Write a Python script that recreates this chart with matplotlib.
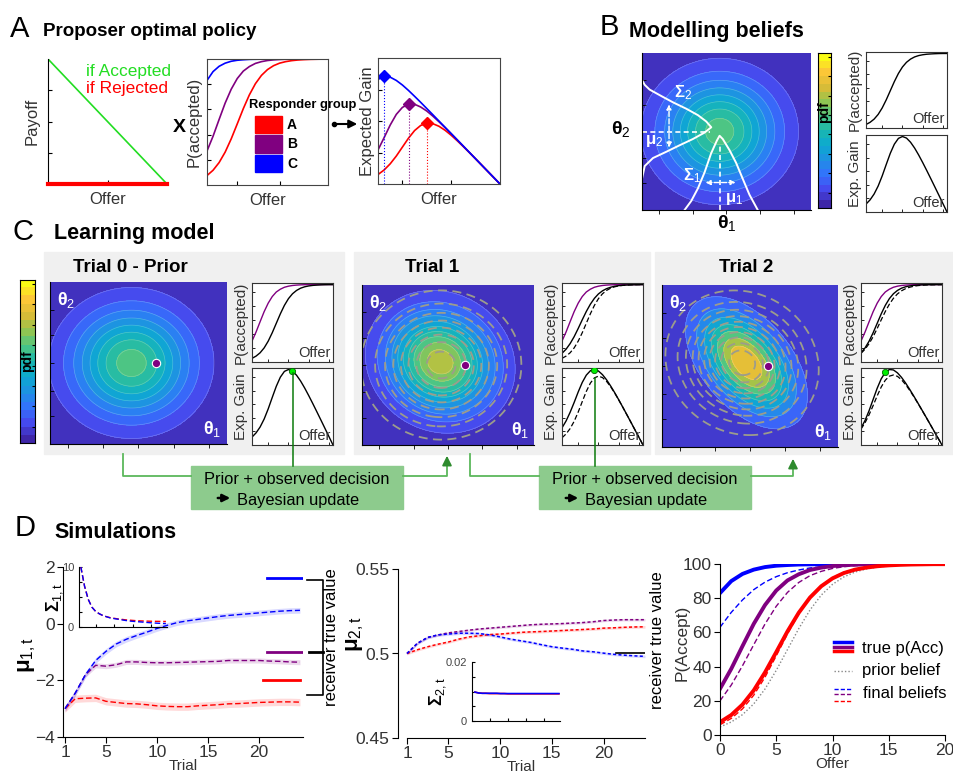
import numpy as np
import matplotlib
matplotlib.use("Agg")
import matplotlib.pyplot as plt
from matplotlib.colors import LinearSegmentedColormap
from matplotlib.patches import Rectangle, FancyArrowPatch
from matplotlib.lines import Line2D

plt.rcParams['font.family'] = ['Liberation Sans', 'DejaVu Sans']
plt.rcParams['mathtext.fontset'] = 'custom'
plt.rcParams['mathtext.rm'] = 'Liberation Sans'
plt.rcParams['mathtext.it'] = 'Liberation Sans:italic'
plt.rcParams['mathtext.bf'] = 'Liberation Sans:bold'
plt.rcParams['mathtext.default'] = 'rm'

W, H = 954, 775

# ── Data ─────────────────────────────────────────────────────────────────────
OFFER = np.arange(0, 21)
PAYOFF_IF_ACCEPTED = [20, 19, 18, 17, 16, 15, 14, 13, 12, 11, 10,
                      9, 8, 7, 6, 5, 4, 3, 2, 1, 0]
PAYOFF_IF_REJECTED = [0] * 21
TOTAL = 20

# P(accept) of responder groups (true) and model beliefs, offers 0..20
P_TRUE_BLUE = [.83, .90, .942, .967, .982, .99, .994, .997, .998, .999, .999,
               1, 1, 1, 1, 1, 1, 1, 1, 1, 1]
P_TRUE_PURPLE = [.27, .387, .52, .65, .76, .845, .904, .94, .965, .979, .988,
                 .993, .996, .998, .999, .999, 1, 1, 1, 1, 1]
P_TRUE_RED = [.075, .117, .178, .261, .366, .485, .606, .715, .804, .87, .916,
              .947, .967, .979, .987, .992, .995, .997, .998, .999, .999]
P_FINAL_BLUE = [.63, .717, .79, .85, .894, .926, .949, .965, .977, .984, .989,
                .993, .995, .997, .998, .999, .999, .999, 1, 1, 1]
P_FINAL_PURPLE = [.20, .292, .405, .528, .649, .753, .834, .892, .932, .957, .974,
                  .984, .99, .994, .996, .998, .999, .999, .999, 1, 1]
P_FINAL_RED = [.06, .097, .153, .233, .338, .463, .591, .709, .804, .873, .921,
               .951, .970, .982, .989, .993, .996, .997, .998, .999, .999]
P_PRIOR = [.047, .076, .119, .182, .269, .378, .5, .622, .731, .818, .881,
           .924, .953, .971, .982, .989, .993, .996, .998, .999, .999]
P_BELIEF_T1 = [.112, .165, .237, .327, .433, .545, .652, .746, .822, .879, .919,
               .947, .965, .978, .986, .991, .994, .996, .997, .998, .999]
P_BELIEF_T2 = [.119, .182, .269, .378, .5, .622, .731, .818, .881, .924, .953,
               .971, .982, .989, .993, .996, .998, .998, .999, .999, 1.0]
CHOSEN_OFFER = [10, 8, 6]

# Gaussian beliefs over (theta1, theta2), in image-fraction units
BELIEF_CENTER = [(0.46, 0.50), (0.455, 0.52), (0.48, 0.52)]
BELIEF_SD = [(0.225, 0.225), (0.20, 0.205), (0.17, 0.20)]
BELIEF_RHO = [0.0, -0.1, -0.5]
BELIEF_PEAK = [0.60, 0.75, 0.88]
LEVEL_STEP = [0.07, 0.07, 0.11]
RESPONDER_POINT = (0.60, 0.50)

# Marginal sketches of panel B (image fractions)
MARG2_X = [0.0, 0.016, 0.045, 0.114, 0.183, 0.262, 0.331, 0.380, 0.41,
           0.370, 0.301, 0.222, 0.144, 0.065, 0.016, 0.0]
MARG2_Y = [0.828, 0.797, 0.767, 0.726, 0.686, 0.645, 0.604, 0.564, 0.527,
           0.493, 0.452, 0.412, 0.371, 0.331, 0.280, 0.199]
MARG1_X = [0.252, 0.291, 0.331, 0.370, 0.409, 0.443, 0.459, 0.478, 0.518,
           0.557, 0.596, 0.636, 0.685]
MARG1_Y = [0.0, 0.057, 0.138, 0.239, 0.361, 0.442, 0.473, 0.452, 0.381,
           0.300, 0.199, 0.097, 0.0]

# Simulations: trials 1..24
TRIALS = np.arange(1, 25)
MU1_BLUE = [-3.0, -2.45, -1.8, -1.3, -0.98, -0.72, -0.55, -0.42, -0.3, -0.17,
            -0.06, 0.04, 0.1, 0.15, 0.2, 0.25, 0.29, 0.32, 0.35, 0.38,
            0.41, 0.44, 0.46, 0.47]
MU1_PURPLE = [-3.0, -2.45, -1.8, -1.47, -1.5, -1.45, -1.35, -1.35, -1.37, -1.38,
              -1.38, -1.37, -1.36, -1.35, -1.34, -1.33, -1.3, -1.3, -1.3, -1.3,
              -1.32, -1.33, -1.35, -1.36]
MU1_RED = [-3.0, -2.65, -2.63, -2.62, -2.74, -2.78, -2.82, -2.83, -2.86, -2.9,
           -2.92, -2.93, -2.93, -2.9, -2.88, -2.86, -2.83, -2.82, -2.8, -2.78,
           -2.77, -2.76, -2.76, -2.77]
MU1_SEM = [0.1, 0.09, 0.13]
MU1_TRUE = [1.6, -1.0, -2.0]
SIG1_BLUE = [10, 6.8, 4.6, 3.3, 2.6, 2.2, 1.9, 1.7, 1.5, 1.4, 1.3, 1.2,
             1.1, 1.0, 0.95, 0.9, 0.85, 0.8, 0.75, 0.7, 0.66, 0.62, 0.6, 0.58]
SIG1_RED = [10, 6.8, 4.6, 3.3, 2.6, 2.2, 1.9, 1.7, 1.55, 1.45, 1.35, 1.28,
            1.2, 1.15, 1.1, 1.05, 1.02, 1.0, 0.98, 0.96, 0.95, 0.94, 0.93, 0.92]

MU2_BLUE = [.5, .506, .5095, .511, .5115, .512, .512, .5118, .511, .5098,
            .5085, .5075, .5065, .5052, .504, .5032, .5025, .5015, .501, .5002,
            .4995, .499, .4986, .4983]
MU2_PURPLE = [.5, .506, .5095, .511, .5122, .513, .5138, .5145, .515, .5155,
              .516, .5165, .517, .5173, .5175, .5177, .518, .5183, .5188, .5195,
              .5198, .52, .52, .52]
MU2_RED = [.5, .5022, .504, .5055, .5068, .5085, .5098, .5105, .5112, .5115,
           .512, .5125, .5128, .513, .5133, .5136, .5139, .5142, .5145, .515,
           .5152, .5155, .5157, .5158]
MU2_SEM = [0.0008, 0.0007, 0.0008]
MU2_TRUE = 0.5
SIG2_BLUE = [.0098, .0095, .0094, .0094, .0094, .0094, .0094, .0093, .0093, .0093,
             .0093, .0093, .0093, .0093, .0093, .0093, .0093, .0093, .0093, .0093,
             .0093, .0093, .0093, .0093]
SIG2_RED = [.0098, .0095, .0094, .0094, .0093, .0093, .0093, .0093, .0093, .0092,
            .0092, .0092, .0092, .0092, .0092, .0092, .0092, .0092, .0092, .0092,
            .0092, .0092, .0092, .0092]

BLUE, PURPLE, RED = "#0000ff", "#800080", "#ff0000"
GREEN = "#22dd22"
PARULA = LinearSegmentedColormap.from_list("parula", [
    "#3e26a8", "#464aee", "#3373fd", "#1f91e3", "#0da9d1", "#1bb9ae",
    "#4fc682", "#99c54c", "#dcbc37", "#fdc838", "#f9fb15"])

fig = plt.figure(figsize=(W / 100, H / 100), dpi=100)


# ── Helpers (pixel coordinates, origin top-left) ─────────────────────────────
def fig_axes(x0, y0, x1, y1, **kw):
    return fig.add_axes([x0 / W, 1 - y1 / H, (x1 - x0) / W, (y1 - y0) / H], **kw)

def ftext(x, y, s, **kw):
    fig.text(x / W, 1 - y / H, s, **kw)

def fline(xs, ys, **kw):
    fig.add_artist(Line2D([x / W for x in xs], [1 - y / H for y in ys],
                          transform=fig.transFigure, **kw))

def frect(x0, y0, x1, y1, **kw):
    fig.add_artist(Rectangle((x0 / W, 1 - y1 / H), (x1 - x0) / W, (y1 - y0) / H,
                             transform=fig.transFigure, **kw))

def farrow(x0, y0, x1, y1, **kw):
    fig.add_artist(FancyArrowPatch((x0 / W, 1 - y0 / H), (x1 / W, 1 - y1 / H),
                                   transform=fig.transFigure, **kw))

def ylabel_at(ax, text, x_right, y_mid, **kw):
    # place a y label with its right edge at pixel x_right, centred on y_mid
    ax.set_ylabel(text, **kw)
    pos = ax.get_position()
    ax.yaxis.set_label_coords((x_right / W - pos.x0) / pos.width,
                              ((1 - y_mid / H) - pos.y0) / pos.height)

def gain(p):
    return np.array(PAYOFF_IF_ACCEPTED) / TOTAL * np.array(p)

GX, GY = np.meshgrid(np.linspace(0, 1, 300), np.linspace(0, 1, 300))

def gauss(k):
    cx, cy = BELIEF_CENTER[k]
    sx, sy = BELIEF_SD[k]
    r = BELIEF_RHO[k]
    dx, dy = (GX - cx) / sx, (GY - cy) / sy
    q = (dx ** 2 - 2 * r * dx * dy + dy ** 2) / (1 - r ** 2)
    return BELIEF_PEAK[k] * np.exp(-q / 2)

def belief_image(ax, k, prev=None, labels=True, dot=True):
    z = gauss(k)
    step = LEVEL_STEP[k]
    levels = np.append(np.arange(0, BELIEF_PEAK[k], step), 1.01)
    cols = [PARULA(l + step / 2) for l in levels[:-1]]
    ax.contourf(GX, GY, z, levels=levels, colors=cols)
    ax.contour(GX, GY, z, levels=levels[1:-1], colors="white", linewidths=0.5, alpha=0.25)
    if prev is not None:
        lp = np.arange(LEVEL_STEP[prev], BELIEF_PEAK[prev], LEVEL_STEP[prev])
        ax.contour(GX, GY, gauss(prev), levels=lp, colors="#9c9c8c",
                   linewidths=1.3, linestyles=[(0, (5, 3))])
    if dot:
        ax.plot(*RESPONDER_POINT, "o", color=PURPLE, mec="white", mew=0.8, ms=6)
    ax.set_xlim(0, 1); ax.set_ylim(0, 1)
    ax.set_xticks([.1, .3, .5, .7, .9]); ax.set_yticks([.17, .33, .5, .67, .83])
    ax.tick_params(labelbottom=False, labelleft=False, length=3, width=0.6)
    ax.tick_params(axis="y", direction="in")
    for s in ["top", "right"]:
        ax.spines[s].set_visible(False)
    if labels:
        ax.text(0.04, 0.95, "θ$_2$", transform=ax.transAxes, color="white",
                fontsize=13, fontweight="bold", va="top")
        ax.text(0.97, 0.03, "θ$_1$", transform=ax.transAxes, color="white",
                fontsize=13, fontweight="bold", ha="right", va="bottom")

def colorbar_strip(ax, label_frac):
    ax.imshow(np.linspace(1, 0, 20).reshape(-1, 1), cmap=PARULA, aspect="auto",
              extent=[0, 1, 0, 1], interpolation="nearest")
    ax.set_xticks([])
    ax.yaxis.tick_right()
    ax.set_yticks(np.arange(0.1, 1.0, 0.125))
    ax.tick_params(axis="y", direction="in", length=2.5, labelright=False)
    ax.text(0.45, label_frac, "pdf", transform=ax.transAxes, rotation=90,
            ha="center", va="center", fontsize=10, fontweight="bold")

def small_axes(ax, ylabel, curves, dots=None):
    for y, kw in curves:
        ax.plot(OFFER, y, **kw)
    if dots is not None:
        ax.plot(*dots, "o", color="#00ee00", mec="#006600", mew=0.6, ms=4.5, zorder=5)
    ax.set_xlim(0, 20)
    top = max(max(np.asarray(y)) for y, _ in curves)
    ax.set_ylim(0, top * 1.02)
    ax.set_xticks([4, 9, 14, 19])
    ax.set_yticks(np.linspace(0.18, 0.9, 5) * top)
    ax.tick_params(direction="in", length=2.5, width=0.6, labelbottom=False, labelleft=False)
    for s in ax.spines.values():
        s.set_linewidth(0.8); s.set_color("#333333")
    ax.text(0.97, 0.03, "Offer", transform=ax.transAxes, ha="right", va="bottom",
            fontsize=10.5, color="#333333")
    ax.set_ylabel(ylabel, fontsize=11, color="#333333", labelpad=3)


# ── A: proposer optimal policy ───────────────────────────────────────────────
ftext(10, 29, "A", fontsize=21, va="center")
ftext(43, 31, "Proposer optimal policy", fontsize=13.5, fontweight="bold", va="center")

ax = fig_axes(48, 59, 167, 184)
ax.plot(OFFER, PAYOFF_IF_ACCEPTED, color=GREEN, lw=1.2)
ax.plot(OFFER, PAYOFF_IF_REJECTED, color=RED, lw=3, clip_on=False, zorder=4)
ax.set_xlim(0, 20); ax.set_ylim(0, 20)
ax.set_xticks([10]); ax.set_yticks([5, 10, 15])
ax.tick_params(direction="in", length=3, labelbottom=False, labelleft=False)
for s in ["top", "right"]:
    ax.spines[s].set_visible(False)
ax.set_xlabel("Offer", fontsize=12, color="#333333", labelpad=6)
ax.set_ylabel("Payoff", fontsize=12, color="#333333", labelpad=6)
ax.text(0.32, 0.9, "if Accepted", transform=ax.transAxes, color=GREEN, fontsize=12.5, va="center")
ax.text(0.32, 0.76, "if Rejected", transform=ax.transAxes, color=RED, fontsize=12.5, va="center")

ax = fig_axes(207, 59, 328, 185)
for p, c in [(P_TRUE_BLUE, BLUE), (P_TRUE_PURPLE, PURPLE), (P_TRUE_RED, RED)]:
    ax.plot(OFFER, p, color=c, lw=1.2)
ax.set_xlim(0, 20); ax.set_ylim(0, 1.0)
ax.set_xticks([5, 12]); ax.set_yticks([.2, .4, .6, .8])
ax.tick_params(direction="in", length=3, labelbottom=False, labelleft=False)
for s in ax.spines.values():
    s.set_color("#444444")
ax.set_xlabel("Offer", fontsize=12, color="#333333", labelpad=6)
ax.set_ylabel("P(accepted)", fontsize=12, color="#333333", labelpad=4)

ftext(179, 128, "X", fontsize=14, fontweight="bold", ha="center", va="center")
ftext(249, 105, "Responder group", fontsize=9.3, fontweight="bold", va="center")
for i, (c, lab) in enumerate([(RED, "A"), (PURPLE, "B"), (BLUE, "C")]):
    frect(255, 116 + 19.5 * i, 282, 133 + 19.5 * i, color=c)
    ftext(287, 125 + 19.5 * i, lab, fontsize=10, fontweight="bold", va="center")
fig.add_artist(Line2D([334 / W], [1 - 124 / H], marker="o", ms=3, color="black",
                      transform=fig.transFigure))
farrow(334, 124, 360, 124, arrowstyle="-|>", mutation_scale=12, color="black", lw=1.5)

ax = fig_axes(378, 58, 500, 184)
for p, c in [(P_TRUE_RED, RED), (P_TRUE_PURPLE, PURPLE), (P_TRUE_BLUE, BLUE)]:
    g = gain(p)
    i = int(np.argmax(g))
    ax.plot(OFFER, g, color=c, lw=1.2)
    ax.plot([OFFER[i], OFFER[i]], [0, g[i]], ":", color=c, lw=0.8)
    ax.plot(OFFER[i], g[i], "D", color=c, ms=6)
ax.set_xlim(0, 20); ax.set_ylim(0, 1.0)
ax.set_xticks([4, 12]); ax.set_yticks([.25, .5, .75])
ax.tick_params(direction="in", length=3, labelbottom=False, labelleft=False)
for s in ax.spines.values():
    s.set_color("#444444")
ax.set_xlabel("Offer", fontsize=12, color="#333333", labelpad=6)
ax.set_ylabel("Expected Gain", fontsize=12, color="#333333", labelpad=2)

# ── B: modelling beliefs ─────────────────────────────────────────────────────
ftext(600, 27, "B", fontsize=21, va="center")
ftext(629, 31, "Modelling beliefs", fontsize=15.5, fontweight="bold", va="center")

ax = fig_axes(642, 53, 811, 210)
belief_image(ax, 0, labels=False, dot=False)
ax.plot(MARG2_X, MARG2_Y, color="white", lw=1.4)
ax.plot(MARG1_X, MARG1_Y, color="white", lw=1.4)
ax.plot([0, 0.40], [0.5, 0.5], color="white", lw=1.2, ls=(0, (3, 2)))
ax.plot([0.459, 0.459], [0, 0.42], color="white", lw=1.2, ls=(0, (3, 2)))
ax.annotate("", xy=(0.16, 0.69), xytext=(0.16, 0.38),
            arrowprops=dict(arrowstyle="<|-|>", color="white", lw=1.0, ls="--", mutation_scale=7))
ax.annotate("", xy=(0.36, 0.175), xytext=(0.57, 0.175),
            arrowprops=dict(arrowstyle="<|-|>", color="white", lw=1.0, ls="--", mutation_scale=7))
ax.text(0.19, 0.75, "Σ$_2$", color="white", fontsize=12, fontweight="bold", va="center")
ax.text(0.02, 0.44, "μ$_2$", color="white", fontsize=12, fontweight="bold", va="center")
ax.text(0.24, 0.22, "Σ$_1$", color="white", fontsize=12, fontweight="bold", va="center")
ax.text(0.49, 0.07, "μ$_1$", color="white", fontsize=12, fontweight="bold", va="center")
ftext(611, 129, "θ$_2$", fontsize=14, fontweight="bold", va="center")
ftext(717, 223, "θ$_1$", fontsize=14, fontweight="bold", va="center")

colorbar_strip(fig_axes(818, 53, 831, 208), 0.62)

small_axes(fig_axes(866, 52, 947, 128), "P(accepted)",
           [(P_PRIOR, dict(color="black", lw=1))])
small_axes(fig_axes(866, 135, 947, 212), "Exp. Gain",
           [(gain(P_PRIOR), dict(color="black", lw=1))])

# ── C: learning model ────────────────────────────────────────────────────────
ftext(12, 232, "C", fontsize=21, va="center")
ftext(54, 233, "Learning model", fontsize=15.5, fontweight="bold", va="center")

panels = [(44, 344, "Trial 0 - Prior", 130), (354, 650, "Trial 1", 432),
          (655, 954, "Trial 2", 746)]
for x0, x1, title, xc in panels:
    frect(x0, 252, x1, 454, color="#f0f0f0", zorder=-5)
    ftext(xc, 268, title, fontsize=13.5, fontweight="bold", ha="center", va="center")

colorbar_strip(fig_axes(20, 280, 35, 443), 0.5)

img_boxes = [(50, 282, 227, 444), (362, 285, 534, 445), (662, 285, 838, 447)]
small_x = [(252, 333), (562, 643), (861, 942)]
beliefs = [P_PRIOR, P_BELIEF_T1, P_BELIEF_T2]
for k in range(3):
    belief_image(fig_axes(*img_boxes[k]), k, prev=None if k == 0 else k - 1)
    xa, xb = small_x[k]
    curves = [(P_TRUE_PURPLE, dict(color=PURPLE, lw=1))]
    gcurves = []
    if k > 0:
        curves.append((beliefs[k - 1], dict(color="black", lw=0.9, ls=(0, (4, 2)))))
        gcurves.append((gain(beliefs[k - 1]), dict(color="black", lw=0.9, ls=(0, (4, 2)))))
    curves.append((beliefs[k], dict(color="black", lw=1)))
    gcurves.append((gain(beliefs[k]), dict(color="black", lw=1)))
    small_axes(fig_axes(xa, 283, xb, 362), "P(accepted)", curves)
    g = gain(beliefs[k])
    small_axes(fig_axes(xa, 368, xb, 445), "Exp. Gain", gcurves,
               dots=(CHOSEN_OFFER[k], g[CHOSEN_OFFER[k]]))

# update boxes and connectors
green_line = dict(color="#5cb85c", lw=1.3)
for bx0, bx1, img_x, dot_x, dot_y, arr_x, arr_y in [
        (191, 403, 123, 293, 373, 447, 453),
        (539, 751, 470, 595, 378, 793, 456)]:
    frect(bx0, 466, bx1, 509, color="#8dcb8d", zorder=1)
    xc = (bx0 + bx1) / 2
    ftext(xc, 479, "Prior + observed decision", fontsize=11.8, ha="center", va="center")
    ftext(xc + 1, 501, "Bayesian update", fontsize=11.8, ha="center", va="center")
    farrow(xc - 82, 498, xc - 64, 498, arrowstyle="-|>", mutation_scale=11,
           color="black", lw=1.8, zorder=3)
    fline([img_x, img_x, bx0], [454, 476, 476], zorder=2, **green_line)
    fline([bx1, arr_x, arr_x], [476, 476, 466], zorder=2, **green_line)
    farrow(arr_x, 468, arr_x, arr_y, arrowstyle="-|>", mutation_scale=14,
           color="#2e8b2e", lw=1.3, zorder=3)
    fline([dot_x, dot_x], [dot_y, 466], color="#0b7a0b", lw=1.1, zorder=6)

# ── D: simulations ───────────────────────────────────────────────────────────
ftext(15, 528, "D", fontsize=21, va="center")
ftext(54, 533, "Simulations", fontsize=15.5, fontweight="bold", va="center")

ax = fig_axes(63, 567, 303, 737)
for m, s, c in [(MU1_RED, MU1_SEM[2], RED), (MU1_PURPLE, MU1_SEM[1], PURPLE),
                (MU1_BLUE, MU1_SEM[0], BLUE)]:
    m = np.array(m)
    ax.fill_between(TRIALS, m - s, m + s, color=c, alpha=0.15, lw=0)
    ax.plot(TRIALS, m, color=c, lw=1, ls=(0, (4, 2)))
ax.plot([20.8, 24.3], [MU1_TRUE[0]] * 2, color=BLUE, lw=2)
ax.plot([20.8, 24.3], [MU1_TRUE[1]] * 2, color=PURPLE, lw=2)
ax.plot([20.4, 24.0], [MU1_TRUE[2]] * 2, color=RED, lw=2)
bk = dict(color="black", lw=1.2, clip_on=False)
ax.plot([24.7, 26.25, 26.25, 24.7], [1.55, 1.55, -2.5, -2.5], **bk)
ax.plot([24.9, 26.25], [-1.0, -1.0], color="black", lw=2, clip_on=False)
ax.set_xlim(0.8, 24.3); ax.set_ylim(-4, 2)
ax.set_xticks([1, 5, 10, 15, 20]); ax.set_yticks([-4, -2, 0, 2])
ax.tick_params(direction="out", length=4, labelsize=12.5, labelcolor="#333333", pad=2)
for s in ["top", "right"]:
    ax.spines[s].set_visible(False)
ax.set_xlabel("Trial", fontsize=11, color="#333333", labelpad=-1)
ylabel_at(ax, "μ$_{1,t}$", 38, 655, fontsize=16, fontweight="bold")

ax = fig_axes(79, 567, 167, 627, facecolor="none")
ax.plot(TRIALS, SIG1_RED, color=RED, lw=1, ls=(0, (4, 2)))
ax.plot(TRIALS, SIG1_BLUE, color=BLUE, lw=1, ls=(0, (4, 2)))
ax.set_xlim(0.5, 24.3); ax.set_ylim(0, 10)
ax.set_xticks([5, 10, 15, 20]); ax.set_yticks([0, 2.5, 5, 7.5, 10])
ax.set_yticklabels(["0", "", "", "", "10"])
ax.tick_params(direction="in", length=2, labelsize=8, labelcolor="#444444", labelbottom=False)
for s in ["top", "right"]:
    ax.spines[s].set_visible(False)
ax.set_ylabel("Σ$_{1,t}$", fontsize=13, fontweight="bold", labelpad=-2)

ftext(332, 637, "receiver true value", fontsize=12, rotation=90, ha="center", va="center")

ax = fig_axes(398, 569, 645, 738)
for m, s, c in [(MU2_RED, MU2_SEM[2], RED), (MU2_PURPLE, MU2_SEM[1], PURPLE),
                (MU2_BLUE, MU2_SEM[0], BLUE)]:
    m = np.array(m)
    ax.fill_between(TRIALS, m - s, m + s, color=c, alpha=0.15, lw=0)
    ax.plot(TRIALS, m, color=c, lw=1.1, ls=(0, (2, 1.5)))
ax.plot([21.2, 24], [MU2_TRUE] * 2, color="black", lw=1.2)
ax.set_xlim(0.13, 24); ax.set_ylim(0.45, 0.55)
ax.spines["bottom"].set_bounds(1, 24)
ax.set_xticks([1, 5, 10, 15, 20]); ax.set_yticks([0.45, 0.5, 0.55])
ax.set_yticklabels(["0.45", "0.5", "0.55"])
ax.tick_params(direction="out", length=4, labelsize=12.5, labelcolor="#333333", pad=2)
for s in ["top", "right"]:
    ax.spines[s].set_visible(False)
ax.set_xlabel("Trial", fontsize=11, color="#333333", labelpad=-1)
ylabel_at(ax, "μ$_{2,t}$", 366, 634, fontsize=16, fontweight="bold")

ax = fig_axes(472, 662, 560, 721, facecolor="none")
ax.plot(TRIALS, SIG2_RED, color=RED, lw=1.2)
ax.plot(TRIALS, SIG2_BLUE, color=BLUE, lw=1.2)
ax.set_xlim(0.2, 24.3); ax.set_ylim(0, 0.02)
ax.set_xticks([5, 10, 15, 20]); ax.set_yticks([0, .005, .01, .015, .02])
ax.set_yticklabels(["0", "", "", "", "0.02"])
ax.tick_params(direction="in", length=2, labelsize=8, labelcolor="#444444", labelbottom=False)
for s in ["top", "right"]:
    ax.spines[s].set_visible(False)
ax.set_ylabel("Σ$_{2,t}$", fontsize=13, fontweight="bold", labelpad=-2)

ftext(658, 640, "receiver true value", fontsize=12, rotation=90, ha="center", va="center")

ax = fig_axes(720, 564, 945, 735)
ax.plot(OFFER, np.array(P_PRIOR) * 100, color="#888888", lw=1, ls=(0, (1, 1.5)))
for p, c in [(P_FINAL_BLUE, BLUE), (P_FINAL_PURPLE, PURPLE), (P_FINAL_RED, RED)]:
    ax.plot(OFFER, np.array(p) * 100, color=c, lw=1, ls=(0, (4, 2)))
for p, c in [(P_TRUE_BLUE, BLUE), (P_TRUE_PURPLE, PURPLE), (P_TRUE_RED, RED)]:
    ax.plot(OFFER, np.array(p) * 100, color=c, lw=2.8)
ax.set_xlim(0, 20); ax.set_ylim(0, 100)
ax.set_xticks([0, 5, 10, 15, 20]); ax.set_yticks([0, 20, 40, 60, 80, 100])
ax.tick_params(direction="out", length=4, labelsize=12.5, labelcolor="#333333", pad=2)
for s in ["top", "right"]:
    ax.spines[s].set_visible(False)
ax.set_xlabel("Offer", fontsize=11, color="#333333", labelpad=-1)
ylabel_at(ax, "P(Accept)", 690, 643, fontsize=12.5, color="#333333")

# manual legend
for y, c in [(642, BLUE), (646.5, PURPLE), (651, RED)]:
    fline([834, 852], [y, y], color=c, lw=2.5)
fline([834, 852], [671, 671], color="#888888", lw=1, ls=(0, (1, 1.5)))
for y, c in [(689, BLUE), (694, PURPLE), (701, RED)]:
    fline([834, 852], [y, y], color=c, lw=1, ls=(0, (3, 1.5)))
ftext(862, 648, "true p(Acc)", fontsize=12, va="center")
ftext(862, 671, "prior belief", fontsize=12, va="center")
ftext(863, 693, "final beliefs", fontsize=12, va="center")

fig.savefig("out.png", dpi=100)
